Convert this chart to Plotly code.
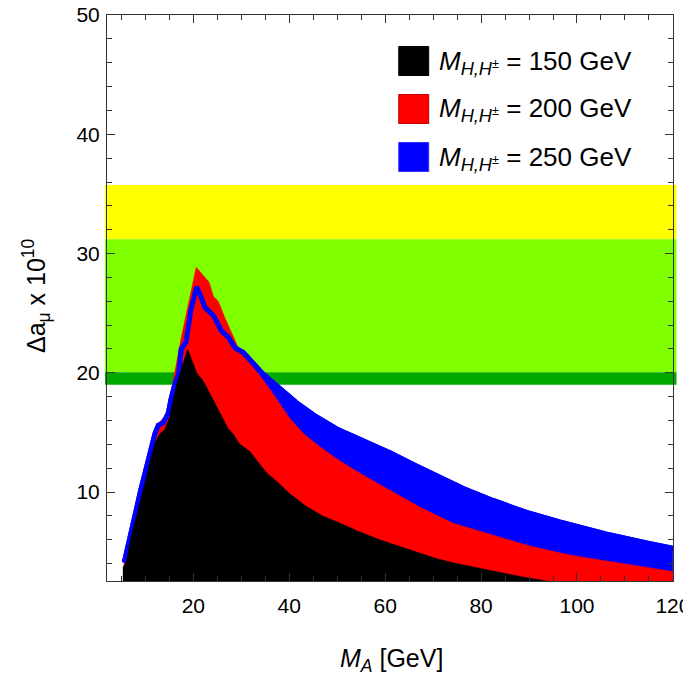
import plotly.graph_objects as go

# ---- data: Delta a_mu (x 1e10) versus M_A for three heavy Higgs masses ----
series_labels = ["150", "200", "250"]

ma_150 = [5.3, 6, 7, 8, 9, 10, 11, 12, 13, 14, 15, 16.5, 18.8, 20.7, 22.1, 23, 24.2, 25,
          27.3, 28.3, 29.5, 31.8, 33.5, 35.3, 37.4, 40, 43.6, 47, 50.6, 54.5, 58.9, 63,
          67.2, 70.5, 74.2, 77.5, 81.1, 84.5, 88.1, 91.5, 95, 100, 105, 110, 115, 120]
da_150 = [3.7, 4.1, 6.2, 7.7, 9.3, 10.9, 12.6, 14.1, 14.9, 15.2, 16.2, 19.0, 22.0, 20.0,
          19.3, 18.6, 17.7, 17.1, 15.3, 14.9, 14.1, 13.4, 12.5, 11.6, 10.9, 9.9, 8.8, 8.0,
          7.4, 6.7, 6.0, 5.45, 4.85, 4.45, 4.07, 3.8, 3.5, 3.2, 2.93, 2.7, 2.45, 2.1, 1.8,
          1.55, 1.35, 1.15]

ma_200 = [5.5, 6, 7, 8, 9, 10, 11, 12, 13, 14, 15, 16, 17.4, 20.6, 22, 23.3, 24.2, 25.2,
          26.6, 28, 29.5, 31.8, 34, 36, 38, 40.1, 43, 46.4, 49.5, 52.6, 56, 59.6, 63, 67,
          70.5, 74.2, 77.5, 81.1, 84.5, 88.1, 91.5, 95, 98, 101.2, 104.7, 108, 112, 116, 120]
da_200 = [4.0, 4.8, 7.0, 8.5, 10.1, 11.7, 13.4, 14.9, 15.9, 16.3, 17.6, 19.8, 22.8, 28.86,
          28.2, 27.6, 26.4, 26.0, 24.6, 23.3, 22.0, 20.8, 19.7, 18.6, 17.4, 16.2, 14.9, 13.8,
          12.9, 12.1, 11.3, 10.5, 9.7, 8.8, 8.1, 7.4, 7.0, 6.56, 6.1, 5.72, 5.35, 5.02, 4.78,
          4.55, 4.33, 4.1, 3.85, 3.6, 3.35]

ma_250 = [5.6, 6, 7, 8, 9, 10, 11, 12, 12.7, 13.7, 14.8, 15.3, 16.2, 16.9, 17.5, 18.5, 19.5,
          20.7, 21.5, 22.4, 24.2, 25.9, 27.3, 28.7, 30.4, 32.5, 34.3, 36, 38.8, 41.5, 45.7,
          49.9, 55.4, 61, 66.5, 70.7, 76.3, 82.5, 89.5, 96.4, 101.2, 106, 115, 120]
da_250 = [4.1, 4.8, 7.0, 8.5, 10.1, 11.7, 13.4, 14.9, 15.6, 15.8, 16.6, 17.7, 19.1, 19.8,
          22.0, 22.6, 25.3, 27.2, 26.5, 25.5, 24.8, 23.5, 23.0, 22.1, 21.7, 20.7, 20.0, 19.4,
          18.4, 17.5, 16.3, 15.3, 14.3, 13.3, 12.2, 11.4, 10.3, 9.3, 8.3, 7.5, 6.95, 6.5,
          5.7, 5.3]

# experimental bands (Delta a_mu x 1e10)
band_yellow = [31.2, 35.75]
band_green = [20.05, 31.2]
band_darkgreen = [19.0, 20.05]

x_ticks = [20, 40, 60, 80, 100, 120]
y_ticks = [10, 20, 30, 40, 50]

# ---- layout geometry (pixels) ----
W, H = 683, 676
L, R, T, B = 107, 9.5, 15, 95
pw, ph = W - L - R, H - T - B


def px_x(p):
    return (p - L) / pw


def px_y(p):
    return 1 - (p - T) / ph


BLACK, RED, BLUE = "#000000", "#ff0000", "#0000ff"
FONT = "Liberation Sans, Arial, Helvetica, sans-serif"

fig = go.Figure()

# filled regions: blue first, red over it, blue outline, black on top
fig.add_trace(go.Scatter(x=ma_250, y=da_250, mode="lines", fill="tozeroy",
                         fillcolor=BLUE, line=dict(color=BLUE, width=5),
                         showlegend=False, hoverinfo="skip"))
fig.add_trace(go.Scatter(x=ma_200, y=da_200, mode="lines", fill="tozeroy",
                         fillcolor=RED, line=dict(color=RED, width=0.5),
                         showlegend=False, hoverinfo="skip"))
fig.add_trace(go.Scatter(x=ma_250, y=da_250, mode="lines",
                         line=dict(color=BLUE, width=5),
                         showlegend=False, hoverinfo="skip"))
fig.add_trace(go.Scatter(x=ma_150, y=da_150, mode="lines", fill="tozeroy",
                         fillcolor=BLACK, line=dict(color=BLACK, width=0.5),
                         showlegend=False, hoverinfo="skip"))

shapes = []
for (y0, y1), col in [(band_yellow, "#ffff00"), (band_green, "#80ff00"),
                      (band_darkgreen, "#00a800")]:
    shapes.append(dict(type="rect", xref="paper", yref="y",
                       x0=px_x(105), x1=px_x(677), y0=y0, y1=y1,
                       fillcolor=col, line=dict(width=0), layer="below"))

# legend boxes and labels
annotations = []
legend_rows = [(BLACK, "#000000", 61), (RED, "#c00000", 109), (BLUE, "#3030ff", 157)]
for (fill, edge, cy), lab in zip(legend_rows, series_labels):
    shapes.append(dict(type="rect", xref="paper", yref="paper",
                       x0=px_x(399), x1=px_x(429), y0=px_y(cy + 14.5), y1=px_y(cy - 14.5),
                       fillcolor=fill, line=dict(color=edge, width=1)))
    annotations.append(dict(
        xref="paper", yref="paper", x=px_x(437), y=px_y(cy + 1),
        xanchor="left", yanchor="middle", showarrow=False,
        text=f"<i>M</i><sub><i>H,H</i><sup>±</sup></sub> = {lab} GeV",
        font=dict(family=FONT, size=26, color="black")))

# axis titles
annotations.append(dict(xref="paper", yref="paper", x=px_x(36), y=px_y(296),
                        xanchor="center", yanchor="middle", showarrow=False, textangle=-90,
                        text="Δa<sub>μ</sub> x 10<sup>10</sup>",
                        font=dict(family=FONT, size=25, color="black")))
annotations.append(dict(xref="paper", yref="paper", x=px_x(392), y=px_y(660),
                        xanchor="center", yanchor="middle", showarrow=False,
                        text="<i>M<sub>A</sub></i> [GeV]",
                        font=dict(family=FONT, size=25, color="black")))

axis_common = dict(showgrid=False, zeroline=False, showline=True, linecolor="#333333",
                   linewidth=1, mirror="allticks", ticks="inside", ticklen=8,
                   tickcolor="#333333", tickwidth=1, automargin=False,
                   tickfont=dict(family=FONT, size=21, color="black"))

fig.update_xaxes(range=[2.0, 120.02], tickvals=x_ticks, ticktext=[str(v) for v in x_ticks],
                 ticklabeloverflow="allow", ticklabelstandoff=6,
                 minor=dict(dtick=5, tick0=0, ticks="inside", ticklen=5,
                            tickcolor="#333333"),
                 **axis_common)
fig.update_yaxes(range=[2.55, 50.0], tickvals=y_ticks, ticktext=[str(v) for v in y_ticks],
                 ticklabelstandoff=2,
                 minor=dict(dtick=2, tick0=0, ticks="inside", ticklen=5,
                            tickcolor="#333333"),
                 **axis_common)

fig.update_layout(width=W, height=H, margin=dict(l=L, r=R, t=T, b=B, autoexpand=False),
                  paper_bgcolor="white", plot_bgcolor="white",
                  shapes=shapes, annotations=annotations, showlegend=False)

fig.write_html("out.html")
